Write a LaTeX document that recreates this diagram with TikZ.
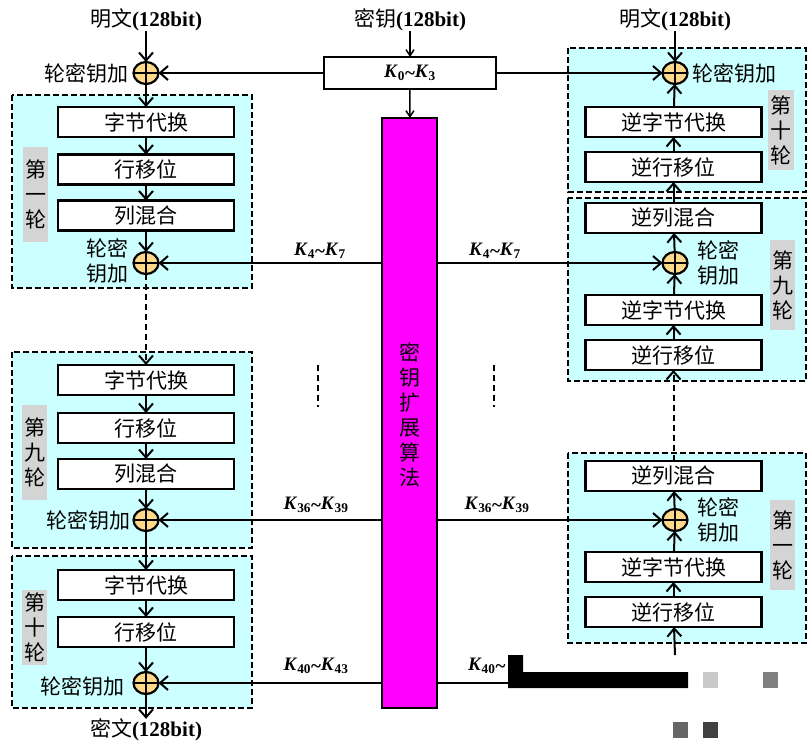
\documentclass[tikz,border=0pt]{standalone}
\usepackage{fontspec}
\setmainfont{Liberation Serif}
\newfontfamily\cjk{Noto Sans CJK SC}
\usetikzlibrary{arrows.meta,shapes.geometric}
\newcommand{\bits}{{\rmfamily\bfseries (128bit)}}
\newcommand{\kk}[2]{\textit{K}\textsubscript{#1}\raisebox{-0.1em}{\upshape\textasciitilde}\textit{K}\textsubscript{#2}}
\definecolor{cy}{HTML}{CCFFFF}
\definecolor{xf}{HTML}{FFD98A}
\definecolor{mg}{HTML}{FF00FF}
\begin{document}
\begin{tikzpicture}[x=1pt,y=-1pt,
  every node/.style={inner sep=0pt,outer sep=0pt},
  op/.style={draw,line width=2.4pt,fill=white,minimum width=176pt,minimum height=30pt,font=\cjk\fontsize{21}{23}\selectfont},
  round/.style={draw,dash pattern=on 6pt off 3pt,line width=2.2pt,fill=cy},
  xor/.style={draw,line width=2.2pt,ellipse,fill=xf,minimum width=25pt,minimum height=22pt},
  lab/.style={font=\cjk\fontsize{21}{25}\selectfont,align=center},
  grey/.style={fill=black!17},
  tlab/.style={font=\rmfamily\bfseries\fontsize{19}{22}\selectfont},
  arr/.style={-{Straight Barb[length=8pt,width=14pt,line width=2pt]},line width=2pt},
  ln/.style={line width=2pt}]
\useasboundingbox (0,0) rectangle (808,755);
% rounds left
\draw[round] (12,95) rectangle (252,288);
\draw[round] (12,352) rectangle (252,548);
\draw[round] (12,556) rectangle (252,708);
% rounds right
\draw[round] (568,48) rectangle (806,192);
\draw[round] (568,198) rectangle (806,381);
\draw[round] (568,453) rectangle (806,643);
% grey labels
\fill[grey] (23,147) rectangle (48,242); \node[lab] (g1) at (35.5,194) {第\\一\\轮};
\fill[grey] (22,405) rectangle (47,500); \node[lab] (g2) at (34.5,452) {第\\九\\轮};
\fill[grey] (22,590) rectangle (47,665); \node[lab] (g3) at (34.5,627) {第\\十\\轮};
\fill[grey] (768,90) rectangle (794,170); \node[lab] (g4) at (781,130) {第\\十\\轮};
\fill[grey] (770,240) rectangle (795,330); \node[lab] (g5) at (782.5,285) {第\\九\\轮};
\fill[grey] (770,500) rectangle (795,590); \node[lab] (g6) at (782.5,545) {第\\一\\轮};
% left column
\node[lab] (pt) at (146,20) {明文\bits};
\node[xor] (x0) at (146,73) {};
\node[lab,anchor=east] (l0) at (128,73) {轮密钥加};
\node[op] (a1) at (146,122) {字节代换};
\node[op] (a2) at (146,169.5) {行移位};
\node[op] (a3) at (146,215.5) {列混合};
\node[xor] (x1) at (146,263) {};
\node[lab,anchor=east] (l1) at (128,261) {轮密\\钥加};
\node[op] (b1) at (146,380) {字节代换};
\node[op] (b2) at (146,428) {行移位};
\node[op] (b3) at (146,474) {列混合};
\node[xor] (x2) at (146,520) {};
\node[lab,anchor=east] (l2) at (130,520) {轮密钥加};
\node[op] (c1) at (146,585) {字节代换};
\node[op] (c2) at (146,632) {行移位};
\node[xor] (x3) at (146,683) {};
\node[lab,anchor=east] (l3) at (124,686) {轮密钥加};
\node[lab] (ct) at (146,730) {密文\bits};
\draw[arr] (pt) -- (x0);
\draw[arr] (x0) -- (a1);
\draw[arr] (a1) -- (a2);
\draw[arr] (a2) -- (a3);
\draw[arr] (a3) -- (x1);
\draw[arr,dash pattern=on 6pt off 4pt] (x1) -- (b1);
\draw[arr] (b1) -- (b2);
\draw[arr] (b2) -- (b3);
\draw[arr] (b3) -- (x2);
\draw[arr] (x2) -- (c1);
\draw[arr] (c1) -- (c2);
\draw[arr] (c2) -- (x3);
\draw[arr] (x3) -- (ct);
% key
\node[lab] (key) at (410,20) {密钥\bits};
\node[draw,line width=2.2pt,fill=white,minimum width=172pt,minimum height=32pt,tlab] (k0) at (410,73) {\kk{0}{3}};
\node[draw,line width=2.2pt,fill=mg,minimum width=55pt,minimum height=590pt] (bar) at (409.5,413) {};
\node[lab] (bt) at (409.5,415) {密\\钥\\扩\\展\\算\\法};
\draw[-{Straight Barb[length=6pt,width=8pt,line width=1.5pt]},line width=1.5pt] (key) -- (k0);
\draw[-{Straight Barb[length=6pt,width=8pt,line width=1.5pt]},line width=1.5pt] (k0) -- (bar);
% right column
\node[lab] (pt2) at (675,20) {明文\bits};
\node[xor] (y0) at (675,73) {};
\node[lab,anchor=west] (m0) at (692,73) {轮密钥加};
\node[op] (r1) at (673.5,122) {逆字节代换};
\node[op] (r2) at (673.5,167) {逆行移位};
\node[op] (s1) at (673.5,218) {逆列混合};
\node[xor] (y1) at (675,263) {};
\node[lab,anchor=west] (m1) at (697,263) {轮密\\钥加};
\node[op] (s2) at (673.5,310) {逆字节代换};
\node[op] (s3) at (673.5,355) {逆行移位};
\node[op] (t1) at (673.5,476) {逆列混合};
\node[xor] (y2) at (675,520) {};
\node[lab,anchor=west] (m2) at (697,520) {轮密\\钥加};
\node[op] (t2) at (673.5,567) {逆字节代换};
\node[op] (t3) at (673.5,612) {逆行移位};
\coordinate (bot) at (675,655);
\draw[arr] (pt2) -- (y0);
\draw[arr] (r1) -- (y0);
\draw[arr] (r2) -- (r1);
\draw[arr] (s1) -- (r2);
\draw[arr] (y1) -- (s1);
\draw[arr] (s2) -- (y1);
\draw[arr] (s3) -- (s2);
\draw[arr,dash pattern=on 6pt off 4pt] (t1) -- (s3);
\draw[arr] (y2) -- (t1);
\draw[arr] (t2) -- (y2);
\draw[arr] (t3) -- (t2);
\draw[arr] (bot) -- (t3);
% key lines
\draw[arr] (k0) -- (x0);
\draw[arr] (k0) -- (y0);
\draw[arr] (bar.west |- x1) -- (x1);
\draw[arr] (bar.east |- y1) -- (y1);
\draw[arr] (bar.west |- x2) -- (x2);
\draw[arr] (bar.east |- y2) -- (y2);
\draw[arr] (bar.west |- x3) -- (x3);
\coordinate (kend) at (520,683);
\draw[ln] (bar.east |- kend) -- (kend);
\foreach \n in {x0,x1,x2,x3,y0,y1,y2}{
  \draw[line width=2pt] (\n.north) -- (\n.south) (\n.west) -- (\n.east);}
% key labels
\node[tlab] (kl1) at (320,251) {\kk{4}{7}};
\node[tlab] (kr1) at (495,251) {\kk{4}{7}};
\node[tlab] (kl2) at (316,505) {\kk{36}{39}};
\node[tlab] (kr2) at (497,505) {\kk{36}{39}};
\node[tlab] (kl3) at (316,666) {\kk{40}{43}};
\node[tlab,anchor=west] (kr3) at (468,666) {\textit{K}\textsubscript{40}\raisebox{-0.1em}{\textasciitilde}};
% dash marks
\draw[line width=2pt,dash pattern=on 6pt off 4pt] (318,365) -- (318,407);
\draw[line width=2pt,dash pattern=on 6pt off 4pt] (494,365) -- (494,407);
% black bar and squares
\fill[black] (508,655) rectangle (523,672) (508,672) rectangle (688,688);
\fill[black!21] (703,672) rectangle (718,688);
\fill[black!50] (763,672) rectangle (778,688);
\fill[black!60] (673,722) rectangle (688,738);
\fill[black!75] (703,722) rectangle (718,738);
\end{tikzpicture}
\end{document}
